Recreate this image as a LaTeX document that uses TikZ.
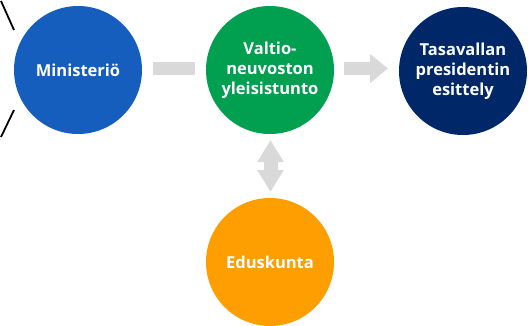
\documentclass[tikz,border=0pt]{standalone}
\usepackage{fontspec}
\setmainfont{Open Sans}
\usetikzlibrary{arrows.meta}
\definecolor{cblue}{RGB}{21,94,189}
\definecolor{cgreen}{RGB}{0,160,80}
\definecolor{cnavy}{RGB}{0,40,105}
\definecolor{corange}{RGB}{255,158,0}
\definecolor{cgrey}{RGB}{217,217,217}
\begin{document}
\begin{tikzpicture}[x=1pt,y=-1pt,
  bubble/.style={circle,minimum size=128pt,inner sep=0pt,text=white,align=center,
    font=\bfseries\fontsize{16.5}{20}\selectfont},
  bar/.style={draw=cgrey,line width=13pt},
]
\useasboundingbox (0,0) rectangle (528,325);
\node[bubble,fill=cblue] (min) at (78,70) {Ministeriö};
\node[bubble,fill=cgreen] (vn) at (270,70) {Valtio-\\neuvoston\\yleisistunto};
\node[bubble,fill=cnavy] (tp) at (463,71) {Tasavallan\\presidentin\\esittely};
\node[bubble,fill=corange] (ed) at (270,262) {Eduskunta};
\coordinate (a1) at (153,68.5);
\coordinate (a2) at (195,68.5);
\coordinate (b1) at (344,68.5);
\coordinate (b2) at (388,68.5);
\coordinate (c1) at (270.5,140);
\coordinate (c2) at (270.5,192);
\coordinate (l1) at (1,1);
\coordinate (l2) at (14,30);
\coordinate (l3) at (14,110);
\coordinate (l4) at (1,137);
\draw[bar] (a1) -- (a2);
\draw[bar,-{Triangle[length=18pt,width=28pt]}] (b1) -- (b2);
\draw[draw=cgrey,line width=14pt,{Triangle[length=22pt,width=25pt]}-{Triangle[length=22pt,width=25pt]}] (c1) -- (c2);
\draw[line width=1.8pt] (l1) -- (l2);
\draw[line width=1.8pt] (l3) -- (l4);
\end{tikzpicture}
\end{document}
